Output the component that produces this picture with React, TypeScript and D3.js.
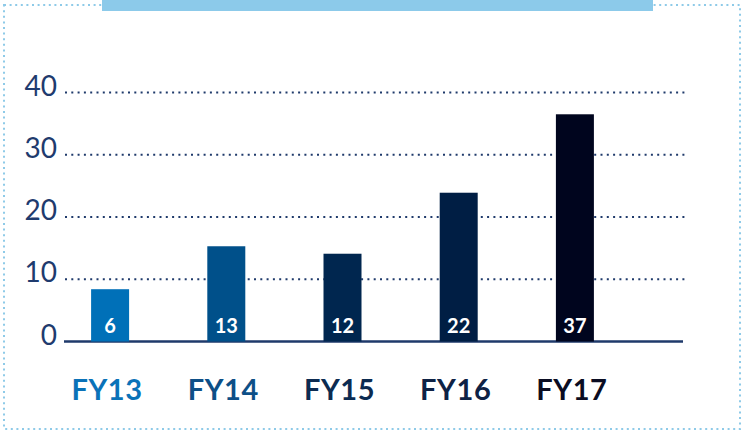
import * as d3 from "d3";

// fiscal years along the bottom
const years = ["FY13", "FY14", "FY15", "FY16", "FY17"];
// bar heights as drawn in the picture
const barValues = [8.4, 15.3, 14.1, 23.9, 36.5];
// numbers printed inside the bars
const valueLabels = ["6", "13", "12", "22", "37"];
const yTicks = [0, 10, 20, 30, 40];

const barColors = ["#0070b8", "#00508a", "#00264f", "#001e44", "#00051e"];
const yearColors = ["#0a72b8", "#0d4f87", "#0c2b51", "#0e2245", "#0a0c22"];

const W = 741;
const H = 431;
const navy = "#1f3a6b";
const font = "Lato, 'Open Sans', sans-serif";

export default function App() {
  const y = d3.scaleLinear().domain([0, 40]).range([341.5, 92.5]);
  const x = d3
    .scaleBand<string>()
    .domain(years)
    .range([52, 633])
    .paddingInner(0.673)
    .paddingOuter(0.3365);

  return (
    <svg
      width={W}
      height={H}
      style={{ position: "absolute", left: 0, top: 0, background: "#fff" }}
    >
      {/* dotted frame */}
      <rect
        x={4}
        y={5}
        width={736}
        height={424}
        fill="none"
        stroke="#8ecae8"
        strokeWidth={2}
        strokeDasharray="2 3.6"
      />
      <rect x={102} y={0} width={551} height={11} fill="#8ccaea" />

      {/* grid */}
      {yTicks
        .filter((t) => t > 0)
        .map((t) => (
          <line
            key={"g" + t}
            x1={65}
            x2={688}
            y1={y(t)}
            y2={y(t)}
            stroke={navy}
            strokeWidth={2}
            strokeDasharray="2 4.3"
          />
        ))}
      <line x1={64} x2={683} y1={y(0)} y2={y(0)} stroke={navy} strokeWidth={2.5} />

      {yTicks.map((t) => (
        <text
          key={"t" + t}
          x={57}
          y={y(t) + 3}
          textAnchor="end"
          fontFamily={font}
          fontSize={28}
          fill="#1f3b6e"
        >
          {t}
        </text>
      ))}

      {/* bars */}
      {years.map((yr, i) => (
        <g key={yr}>
          <rect
            x={x(yr)}
            y={y(barValues[i])}
            width={x.bandwidth()}
            height={y(0) - y(barValues[i])}
            fill={barColors[i]}
          />
          <text
            x={(x(yr) || 0) + x.bandwidth() / 2}
            y={333}
            textAnchor="middle"
            fontFamily={font}
            fontWeight="bold"
            fontSize={20}
            fill="#fff"
          >
            {valueLabels[i]}
          </text>
          <text
            x={(x(yr) || 0) + x.bandwidth() / 2 - 3}
            y={400}
            textAnchor="middle"
            fontFamily={font}
            fontWeight="bold"
            fontSize={29}
            letterSpacing={0.6}
            fill={yearColors[i]}
          >
            {yr}
          </text>
        </g>
      ))}
    </svg>
  );
}
